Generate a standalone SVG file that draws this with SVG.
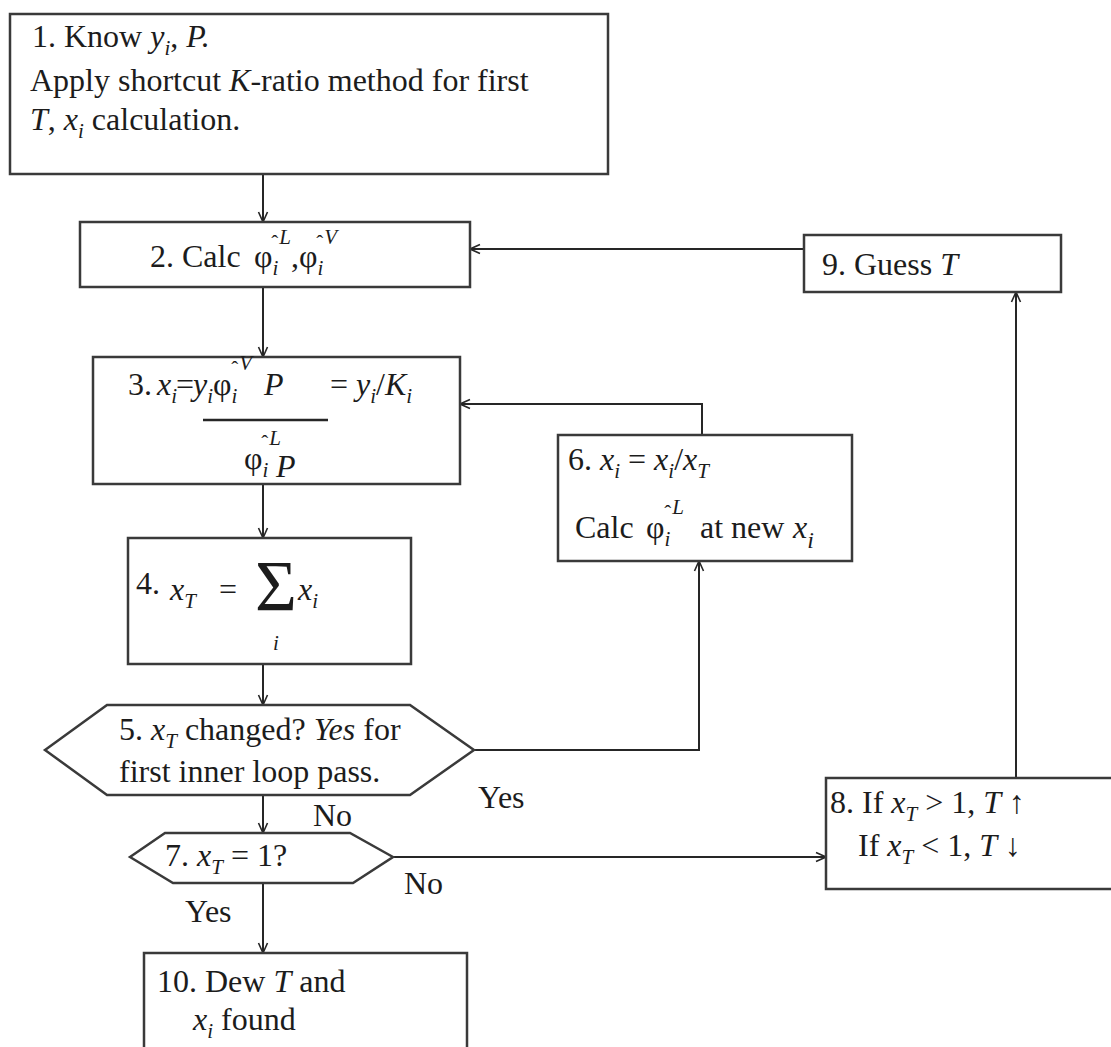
<svg xmlns="http://www.w3.org/2000/svg" width="1111" height="1047" viewBox="0 0 1111 1047">
  <defs>
    <style>
      .box { fill: #ffffff; stroke: #3a3a3a; stroke-width: 2.5; }
      .wire { fill: none; stroke: #262626; stroke-width: 2; }
      .t { font-family: "Liberation Serif", "Times New Roman", serif; font-size: 32px; fill: #1c1c1c; }
      .i { font-style: italic; }
      .s { font-size: 21px; }
      .sig { font-size: 72px; }
    </style>
    <marker id="arr" viewBox="0 0 12 12" refX="11" refY="6" markerWidth="12" markerHeight="12" markerUnits="userSpaceOnUse" orient="auto">
      <path d="M1,1.5 L11,6 L1,10.5" fill="none" stroke="#262626" stroke-width="1.6"/>
    </marker>
  </defs>

  <rect width="1111" height="1047" fill="#ffffff"/>

  <!-- connectors -->
  <g id="connectors">
    <line class="wire" x1="263" y1="174" x2="263" y2="222" marker-end="url(#arr)"/>
    <line class="wire" x1="263" y1="287" x2="263" y2="357" marker-end="url(#arr)"/>
    <line class="wire" x1="263" y1="484" x2="263" y2="538" marker-end="url(#arr)"/>
    <line class="wire" x1="263" y1="664" x2="263" y2="705" marker-end="url(#arr)"/>
    <line class="wire" x1="263" y1="795" x2="263" y2="833" marker-end="url(#arr)"/>
    <line class="wire" x1="263" y1="883" x2="263" y2="953" marker-end="url(#arr)"/>
    <polyline class="wire" points="474,750 699,750 699,561" marker-end="url(#arr)"/>
    <polyline class="wire" points="702,435 702,404 460,404" marker-end="url(#arr)"/>
    <line class="wire" x1="393" y1="857" x2="826" y2="857" marker-end="url(#arr)"/>
    <line class="wire" x1="1016" y1="778" x2="1016" y2="292" marker-end="url(#arr)"/>
    <line class="wire" x1="804" y1="249" x2="470" y2="249" marker-end="url(#arr)"/>
    <text class="t" x="478" y="808">Yes</text>
    <text class="t" x="313" y="826">No</text>
    <text class="t" x="404" y="894">No</text>
    <text class="t" x="185" y="922">Yes</text>
  </g>

  <!-- 1: start -->
  <g id="n1">
    <rect class="box" x="10" y="14" width="598" height="160"/>
    <text class="t" x="32" y="47">1. Know <tspan class="i">y</tspan><tspan class="i s" dy="8">i</tspan><tspan dy="-8">, </tspan><tspan class="i">P.</tspan></text>
    <text class="t" x="30" y="91">Apply shortcut <tspan class="i">K</tspan>-ratio method for first</text>
    <text class="t" x="30" y="130"><tspan class="i">T</tspan>, <tspan class="i">x</tspan><tspan class="i s" dy="8">i</tspan><tspan dy="-8"> calculation.</tspan></text>
  </g>

  <!-- 2: fugacity coefficients -->
  <g id="n2">
    <rect class="box" x="80" y="222" width="390" height="65"/>
    <text class="t" x="150" y="267">2. Calc <tspan x="254">φ</tspan><tspan class="i s" dy="8">i</tspan><tspan class="s" dx="-7" dy="-25">ˆ</tspan><tspan class="i s" dx="1" dy="-6">L</tspan><tspan x="291" dy="23">,φ</tspan><tspan class="i s" dy="8">i</tspan><tspan class="s" dx="-7" dy="-25">ˆ</tspan><tspan class="i s" dx="1" dy="-6">V</tspan></text>
  </g>

  <!-- 3: liquid composition -->
  <g id="n3">
    <rect class="box" x="93" y="357" width="367" height="127"/>
    <text class="t" x="128" y="395">3.<tspan class="i" x="157">x</tspan><tspan class="i s" dy="8">i</tspan><tspan x="176" dy="-8">=</tspan><tspan class="i" x="193">y</tspan><tspan class="i s" dy="8">i</tspan><tspan dy="-8">φ</tspan><tspan class="i s" dy="8">i</tspan><tspan class="s" dx="-6" dy="-27">ˆ</tspan><tspan class="i s" dx="1" dy="-6">V</tspan><tspan class="i" x="264" dy="25">P</tspan><tspan x="330">= </tspan><tspan class="i">y</tspan><tspan class="i s" dy="8">i</tspan><tspan dy="-8">/</tspan><tspan class="i">K</tspan><tspan class="i s" dy="8">i</tspan></text>
    <line x1="203" y1="420" x2="328" y2="420" stroke="#262626" stroke-width="2.5"/>
    <text class="t" x="244" y="469">φ<tspan class="i s" dy="8">i</tspan><tspan class="s" dx="-7" dy="-27">ˆ</tspan><tspan class="i s" dx="1" dy="-5">L</tspan><tspan class="i" x="276" dy="32">P</tspan></text>
  </g>

  <!-- 4: sum of mole fractions -->
  <g id="n4">
    <rect class="box" x="128" y="538" width="283" height="126"/>
    <text class="t" x="136" y="594">4.</text>
    <text class="t" x="170" y="600"><tspan class="i">x</tspan><tspan class="i s" dy="8">T</tspan><tspan x="219" dy="-8">=</tspan></text>
    <text class="t sig" x="255" y="610">Σ</text>
    <text class="t" x="298" y="600"><tspan class="i">x</tspan><tspan class="i s" dy="8">i</tspan></text>
    <text class="t i s" x="273" y="650">i</text>
  </g>

  <!-- 5: inner loop test -->
  <g id="n5">
    <polygon class="box" points="45,750 107,705 410,705 474,750 410,795 107,795"/>
    <text class="t" x="119" y="740">5. <tspan class="i">x</tspan><tspan class="i s" dy="8">T</tspan><tspan dy="-8"> changed? </tspan><tspan class="i">Yes</tspan> for</text>
    <text class="t" x="119" y="782">first inner loop pass.</text>
  </g>

  <!-- 6: normalise -->
  <g id="n6">
    <rect class="box" x="558" y="435" width="294" height="126"/>
    <text class="t" x="568" y="470">6. <tspan class="i">x</tspan><tspan class="i s" dy="8">i</tspan><tspan dy="-8"> = </tspan><tspan class="i">x</tspan><tspan class="i s" dy="8">i</tspan><tspan dy="-8">/</tspan><tspan class="i">x</tspan><tspan class="i s" dy="8">T</tspan></text>
    <text class="t" x="575" y="538">Calc <tspan x="646">φ</tspan><tspan class="i s" dy="8">i</tspan><tspan class="s" dx="-6" dy="-26">ˆ</tspan><tspan class="i s" dx="1" dy="-6">L</tspan><tspan x="700" dy="24">at new </tspan><tspan class="i" x="793">x</tspan><tspan class="i" font-size="24" dy="10">i</tspan></text>
  </g>

  <!-- 7: convergence test -->
  <g id="n7">
    <polygon class="box" points="130,857 165,833 350,833 393,857 353,883 173,883"/>
    <text class="t" x="165" y="866">7. <tspan class="i">x</tspan><tspan class="i s" dy="8">T</tspan><tspan dy="-8"> = 1?</tspan></text>
  </g>

  <!-- 8: temperature adjustment -->
  <g id="n8">
    <rect class="box" x="826" y="778" width="300" height="111"/>
    <text class="t" x="830" y="813">8. If <tspan class="i">x</tspan><tspan class="i s" dy="8">T</tspan><tspan dy="-8"> &gt; 1, </tspan><tspan class="i">T</tspan> ↑</text>
    <text class="t" x="858" y="856">If <tspan class="i">x</tspan><tspan class="i s" dy="8">T</tspan><tspan dy="-8"> &lt; 1, </tspan><tspan class="i">T</tspan> ↓</text>
  </g>

  <!-- 9: temperature guess -->
  <g id="n9">
    <rect class="box" x="804" y="235" width="257" height="57"/>
    <text class="t" x="822" y="275">9. Guess <tspan class="i">T</tspan></text>
  </g>

  <!-- 10: result -->
  <g id="n10">
    <rect class="box" x="144" y="953" width="323" height="110"/>
    <text class="t" x="157" y="992">10. Dew <tspan class="i">T</tspan> and</text>
    <text class="t" x="193" y="1030"><tspan class="i">x</tspan><tspan class="i s" dy="8">i</tspan><tspan dy="-8"> found</tspan></text>
  </g>
</svg>
